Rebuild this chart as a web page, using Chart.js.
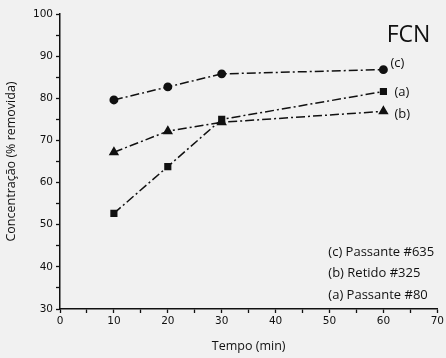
<!DOCTYPE html>
<html>
<head>
<meta charset="utf-8">
<script src="https://cdn.jsdelivr.net/npm/chart.js@4"></script>
<style>
  html, body { margin: 0; padding: 0; background: #f1f1f1; }
  #wrap { width: 446px; height: 358px; }
</style>
</head>
<body>
<div id="wrap"><canvas id="c"></canvas></div>
<script>
// Tempo (min)
const tempo = [10, 20, 30, 60];
// Concentração (% removida)
const passante80 = [52.7, 63.8, 75.0, 81.6];   // (a)
const retido325 = [67.2, 72.2, 74.3, 76.9];    // (b)
const passante635 = [79.6, 82.7, 85.8, 86.8];  // (c)

const curveTags = ['(a)', '(b)', '(c)'];
const legendLines = ['(c) Passante #635', '(b) Retido #325', '(a) Passante #80'];

const pts = vals => tempo.map((t, i) => ({x: t, y: vals[i]}));

const dashDot = [9, 3, 2, 3];

// Texts drawn on top of the chart
const textPlugin = {
  id: 'texts',
  afterDatasetsDraw(chart) {
    const ctx = chart.ctx;
    const area = chart.chartArea;
    ctx.save();
    ctx.fillStyle = '#111';
    ctx.textBaseline = 'middle';

    ctx.font = '23px "Open Sans"';
    ctx.textAlign = 'right';
    ctx.fillText('FCN', area.right - 7, 35);

    // tags next to the last point of each curve
    ctx.font = '13px "Open Sans"';
    ctx.textAlign = 'left';
    const offsets = [[11, 1], [11, 3], [7, -6]];
    chart.data.datasets.forEach((ds, i) => {
      const meta = chart.getDatasetMeta(i);
      const last = meta.data[meta.data.length - 1];
      ctx.fillText(curveTags[i], last.x + offsets[i][0], last.y + offsets[i][1]);
    });

    legendLines.forEach((txt, i) => {
      ctx.fillText(txt, area.right - 109, area.bottom - 57 + i * 21.5);
    });
    ctx.restore();
  }
};

new Chart(document.getElementById('c'), {
  type: 'line',
  data: {
    datasets: [
      {
        label: '(a) Passante #80',
        data: pts(passante80),
        borderColor: '#111',
        backgroundColor: '#111',
        borderWidth: 1.5,
        borderDash: dashDot,
        pointStyle: 'rect',
        pointRadius: 4,
        tension: 0
      },
      {
        label: '(b) Retido #325',
        data: pts(retido325),
        borderColor: '#111',
        backgroundColor: '#111',
        borderWidth: 1.5,
        borderDash: dashDot,
        pointStyle: 'triangle',
        pointRadius: 4.5,
        tension: 0
      },
      {
        label: '(c) Passante #635',
        data: pts(passante635),
        borderColor: '#111',
        backgroundColor: '#111',
        borderWidth: 1.5,
        borderDash: dashDot,
        pointStyle: 'circle',
        pointRadius: 3.7,
        tension: 0
      }
    ]
  },
  options: {
    responsive: true,
    maintainAspectRatio: false,
    animation: false,
    layout: { padding: { top: 14, right: 6, left: 0, bottom: 0 } },
    scales: {
      x: {
        type: 'linear',
        min: 0,
        max: 70,
        ticks: {
          stepSize: 5,
          color: '#111',
          font: { family: 'DejaVu Sans', size: 10.5 },
          padding: 2,
          maxRotation: 0,
          callback: v => (v % 10 === 0 ? v : '')
        },
        grid: { drawOnChartArea: false, tickLength: 4, color: '#111', tickWidth: 1.3 },
        border: { color: '#111', width: 1.5 },
        title: {
          display: true,
          text: 'Tempo (min)',
          color: '#111',
          font: { family: 'Open Sans', size: 12.5 },
          padding: { top: 12 }
        },
        afterFit: s => { s.height = 49; }
      },
      y: {
        min: 30,
        max: 100,
        ticks: {
          stepSize: 5,
          color: '#111',
          font: { family: 'DejaVu Sans', size: 10.5 },
          padding: 3,
          callback: v => (v % 10 === 0 ? v : '')
        },
        grid: { drawOnChartArea: false, tickLength: 4, color: '#111', tickWidth: 1.3 },
        border: { color: '#111', width: 1.5 },
        title: {
          display: true,
          text: 'Concentração (% removida)',
          color: '#111',
          font: { family: 'Open Sans', size: 12.5 },
          padding: { bottom: 4 }
        },
        afterFit: s => { s.width = 60; }
      }
    },
    plugins: {
      legend: { display: false },
      tooltip: { enabled: false }
    }
  },
  plugins: [textPlugin]
});
</script>
</body>
</html>
